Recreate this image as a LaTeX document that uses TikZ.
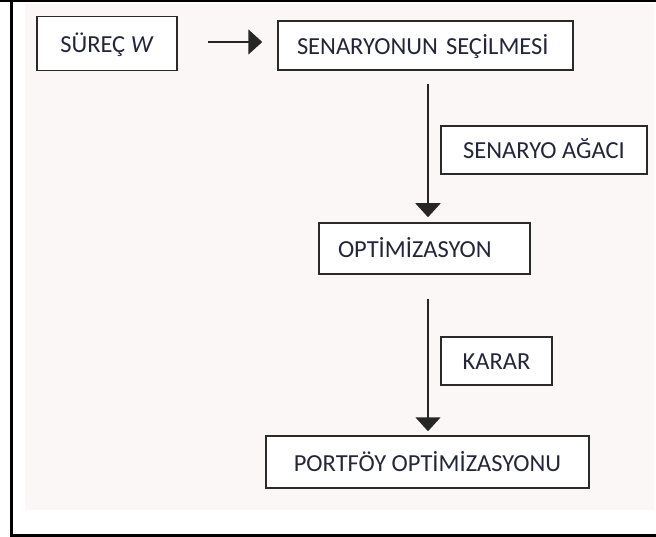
\documentclass[tikz,border=0pt]{standalone}
\usepackage{fontspec}
\setmainfont{Carlito}
\usetikzlibrary{arrows.meta}
\definecolor{txt}{HTML}{23263A}
\definecolor{edge}{HTML}{2A2A2A}
\definecolor{paper}{HTML}{FAF7F6}
\begin{document}
\begin{tikzpicture}[x=1pt,y=-1pt,
  box/.style={draw=edge, line width=1.5pt, fill=white, inner sep=0pt, text=txt,
    font=\fontsize{24.5}{28}\selectfont, text height=18pt, text depth=0pt},
  lbox/.style={box, align=left, inner xsep=19pt},
  flow/.style={draw=black!85, line width=1.8pt, -{Triangle[length=14pt,width=25pt]}},
  frame/.style={draw=black, line width=2.5pt}]
  % page size and frame
  \useasboundingbox (0,0) rectangle (656,537);
  \fill[white] (0,0) rectangle (656,537);
  \fill[paper] (25,4) rectangle (654,510);
  \draw[frame] (0,1.2) -- (656,1.2);
  \draw[frame] (11.6,0) -- (11.6,537);
  \draw[frame] (11,535.6) -- (656,535.6);

  % boxes
  \node[box, minimum width=140pt, minimum height=54pt] (surec) at (107,43.7) {SÜREÇ \textit{W}};
  \node[lbox, text width=257pt, minimum height=49pt] (secim) at (425.5,45.5) {SENARYONUN SEÇİLMESİ};
  \node[box, minimum width=206pt, minimum height=48pt] (agac) at (544,150) {SENARYO AĞACI};
  \node[lbox, text width=173pt, minimum height=51pt] (opt) at (424.5,248.5) {OPTİMİZASYON};
  \node[box, minimum width=111pt, minimum height=48pt] (karar) at (496.5,361) {KARAR};
  \node[box, minimum width=323pt, minimum height=52pt] (port) at (427.5,462) {PORTFÖY OPTİMİZASYONU};

  % flow arrows
  \draw[flow, shorten <=30pt, shorten >=15pt]
    ([yshift=1.7pt]surec.east) -- ([yshift=1.7pt]surec.east -| secim.west);
  \draw[flow, shorten <=13pt, shorten >=5pt]
    ([xshift=2.5pt]secim.south) -- ([xshift=2.5pt]secim.south |- opt.north);
  \draw[flow, shorten <=24pt, shorten >=4pt]
    ([xshift=3.5pt]opt.south) -- ([xshift=3.5pt]opt.south |- port.north);
\end{tikzpicture}
\end{document}
